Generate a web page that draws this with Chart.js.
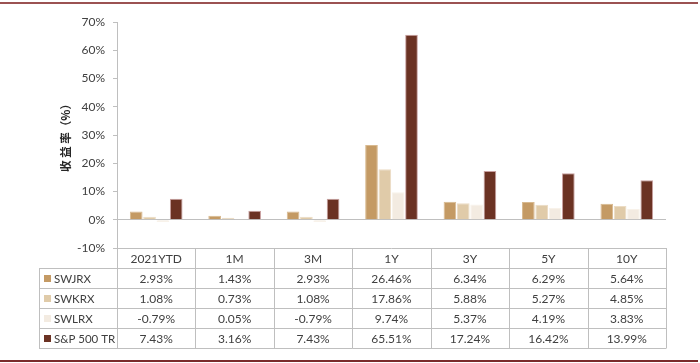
<!DOCTYPE html>
<html>
<head>
<meta charset="utf-8">
<script src="https://cdn.jsdelivr.net/npm/chart.js@4"></script>
<style>
html,body{margin:0;padding:0;background:#fff;}
#wrap{width:700px;height:363px;position:relative;}
</style>
</head>
<body>
<div id="wrap"><canvas id="c" width="700" height="363"></canvas></div>
<script>
const categories = ['2021YTD', '1M', '3M', '1Y', '3Y', '5Y', '10Y'];
const seriesNames = ['SWJRX', 'SWKRX', 'SWLRX', 'S&P 500 TR'];
const swjrx = [2.93, 1.43, 2.93, 26.46, 6.34, 6.29, 5.64];
const swkrx = [1.08, 0.73, 1.08, 17.86, 5.88, 5.27, 4.85];
const swlrx = [-0.79, 0.05, -0.79, 9.74, 5.37, 4.19, 3.83];
const sp500 = [7.43, 3.16, 7.43, 65.51, 17.24, 16.42, 13.99];
const yTicks = [-10, 0, 10, 20, 30, 40, 50, 60, 70];
const seriesColors = ['#c49a64', '#e0cba9', '#f3ebe1', '#6b3223'];
const seriesBorders = ['#d8b98f', '#ecdcc4', '#f8f2ea', '#c9a0a0'];
const allSeries = [swjrx, swkrx, swlrx, sp500];

const FONT = 'Lato, "Open Sans", sans-serif';
const TEXT = '#404040';
const GRID = '#bfbfbf';

const tablePlugin = {
  id: 'tablePlugin',
  afterDraw(chart) {
    const ctx = chart.ctx;
    const xs = chart.scales.x;
    const ca = chart.chartArea;
    const n = categories.length;
    const cw = (ca.right - ca.left) / n;
    const top = ca.bottom;
    const rowH = 20;
    const legendLeft = 39;
    const bottom = top + rowH * (seriesNames.length + 1);
    ctx.save();
    ctx.strokeStyle = GRID;
    ctx.lineWidth = 1;
    ctx.beginPath();
    ctx.moveTo(ca.left, top + 0.5); ctx.lineTo(ca.right, top + 0.5);
    for (let r = 1; r <= seriesNames.length + 1; r++) {
      const y = Math.round(top + r * rowH) + 0.5;
      ctx.moveTo(legendLeft, y); ctx.lineTo(ca.right, y);
    }
    for (let i = 0; i <= n; i++) {
      const x = Math.round(ca.left + i * cw) + 0.5;
      ctx.moveTo(x, top); ctx.lineTo(x, bottom + 0.5);
    }
    ctx.moveTo(legendLeft + 0.5, top + rowH); ctx.lineTo(legendLeft + 0.5, bottom + 0.5);
    ctx.stroke();

    ctx.font = '12px ' + FONT;
    ctx.fillStyle = TEXT;
    ctx.textAlign = 'center';
    ctx.textBaseline = 'middle';
    categories.forEach((c, i) => {
      ctx.fillText(c, xs.getPixelForValue(i), top + rowH / 2 + 1);
    });
    allSeries.forEach((vals, r) => {
      const y = top + rowH * (r + 1) + rowH / 2 + 1;
      ctx.font = '12px ' + FONT;
      vals.forEach((v, i) => {
        ctx.fillStyle = TEXT;
        ctx.textAlign = 'center';
        ctx.fillText(v.toFixed(2) + '%', xs.getPixelForValue(i), y);
      });
      ctx.fillStyle = seriesColors[r];
      ctx.fillRect(44, Math.round(y - 4), 7, 7);
      ctx.fillStyle = TEXT;
      ctx.textAlign = 'left';
      ctx.font = '11.5px ' + FONT;
      ctx.fillText(seriesNames[r], 54, y);
    });

    ctx.strokeStyle = '#9b5252';
    ctx.lineWidth = 2;
    ctx.beginPath(); ctx.moveTo(0, 3); ctx.lineTo(698, 3); ctx.stroke();
    ctx.strokeStyle = '#7a2b2b';
    ctx.beginPath(); ctx.moveTo(0, 361); ctx.lineTo(698, 361); ctx.stroke();
    ctx.restore();
  }
};

new Chart(document.getElementById('c'), {
  type: 'bar',
  data: {
    labels: categories,
    datasets: allSeries.map((vals, i) => ({
      label: seriesNames[i],
      data: vals,
      backgroundColor: seriesColors[i],
      borderColor: seriesBorders[i],
      borderWidth: 1,
      categoryPercentage: 0.68,
      barPercentage: 0.95
    }))
  },
  options: {
    responsive: false,
    animation: false,
    devicePixelRatio: 1,
    layout: { padding: { left: 0, right: 34, top: 22, bottom: 115 } },
    plugins: { legend: { display: false }, tooltip: { enabled: false } },
    scales: {
      x: { display: false },
      y: {
        min: -10, max: 70,
        afterFit(scale) { scale.width = 117; },
        afterBuildTicks(scale) { scale.ticks = yTicks.map(v => ({ value: v })); },
        border: { display: true, color: GRID, width: 1 },
        grid: {
          drawOnChartArea: true,
          color: c => (c.tick && c.tick.value === 0) ? GRID : 'rgba(0,0,0,0)',
          tickColor: GRID,
          tickLength: 4,
          lineWidth: 1
        },
        ticks: {
          padding: 8,
          color: TEXT,
          font: { family: FONT, size: 12 },
          callback: v => v + '%'
        },
        title: {
          display: true,
          text: '收 益 率（%）',
          color: '#262626',
          font: { family: '"Noto Sans CJK SC", sans-serif', size: 11.5, weight: 'bold' },
          padding: { top: 59, bottom: 0 }
        }
      }
    }
  },
  plugins: [tablePlugin]
});
</script>
</body>
</html>
